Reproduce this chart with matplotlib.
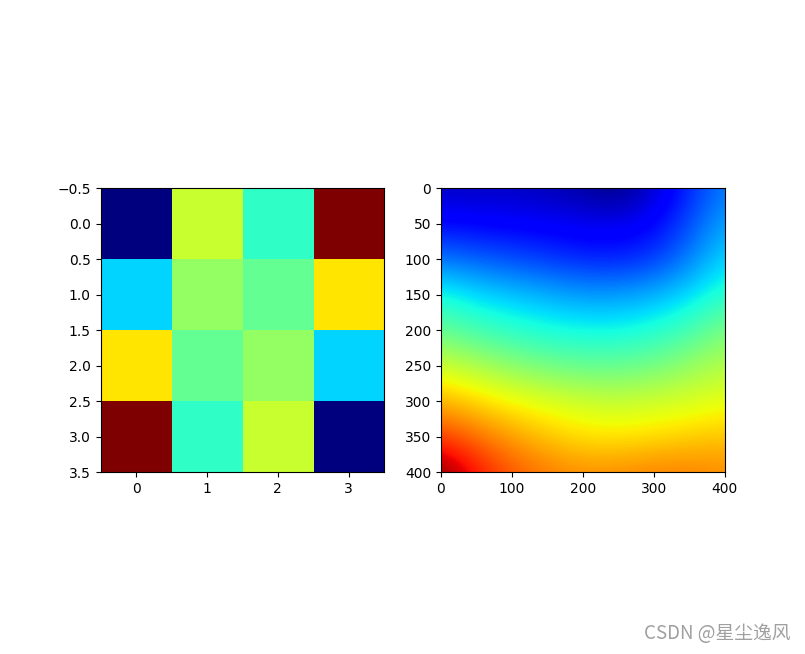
import numpy as np
import matplotlib
matplotlib.use("Agg")
import matplotlib.pyplot as plt

matrix = [
    [0.00, 0.59, 0.41, 1.00],
    [0.333, 0.53, 0.47, 0.667],
    [0.667, 0.47, 0.53, 0.333],
    [1.00, 0.41, 0.59, 0.00],
]

# right: smooth field sampled every 50 px (rows y=0..400, cols x=0..400)
grid_step = 50
field = [
    [0.06, 0.06, 0.06, 0.05, 0.03, 0.00, 0.07, 0.16, 0.25],
    [0.13, 0.12, 0.115, 0.11, 0.10, 0.10, 0.12, 0.20, 0.29],
    [0.24, 0.22, 0.20, 0.18, 0.16, 0.155, 0.18, 0.25, 0.34],
    [0.38, 0.34, 0.32, 0.30, 0.28, 0.28, 0.30, 0.34, 0.40],
    [0.47, 0.43, 0.40, 0.38, 0.37, 0.37, 0.39, 0.43, 0.50],
    [0.60, 0.56, 0.52, 0.49, 0.47, 0.47, 0.49, 0.53, 0.57],
    [0.72, 0.68, 0.645, 0.62, 0.60, 0.59, 0.60, 0.61, 0.63],
    [0.84, 0.79, 0.74, 0.70, 0.67, 0.665, 0.675, 0.69, 0.70],
    [1.00, 0.89, 0.82, 0.78, 0.76, 0.765, 0.775, 0.775, 0.76],
]

fig, (ax1, ax2) = plt.subplots(1, 2, figsize=(8.05, 6.54), dpi=100)

ax1.imshow(np.array(matrix), cmap="jet", vmin=0, vmax=1)
ax1.set_xticks([0, 1, 2, 3])
ax1.set_yticks(np.arange(-0.5, 3.51, 0.5))

f = np.array(field)
n = f.shape[0]
half = grid_step / 2
ext = [-half, (n - 1) * grid_step + half, (n - 1) * grid_step + half, -half]
ax2.imshow(f, cmap="jet", vmin=0, vmax=1, interpolation="bicubic", extent=ext)
ax2.set_xlim(0, 400)
ax2.set_ylim(400, 0)
ax2.set_xticks(np.arange(0, 401, 100))
ax2.set_yticks(np.arange(0, 401, 50))

fig.text(0.982, 0.015, "CSDN @星尘逸风", ha="right", va="bottom", fontsize=13.5,
         color="#a0a0a0", family=["Noto Sans CJK SC", "DejaVu Sans"])

fig.savefig("out.png", dpi=100)
